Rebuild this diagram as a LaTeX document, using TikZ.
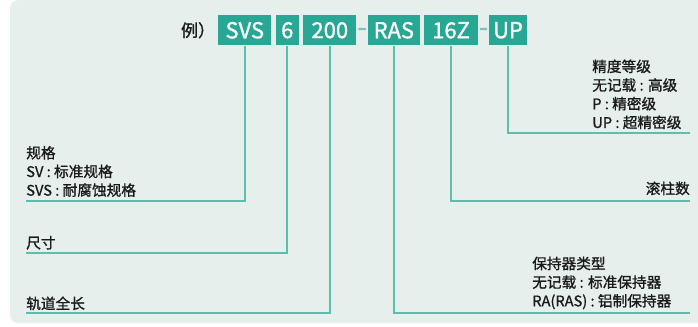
\documentclass[tikz,border=0pt]{standalone}
\usepackage{fontspec}
\setmainfont{Noto Sans CJK SC}[FakeBold=1.1]
\usepackage{xcolor}
\usetikzlibrary{positioning, calc}

\definecolor{codebox}{HTML}{27A794}
\definecolor{guide}{HTML}{5CBFAE}
\definecolor{dashgrey}{HTML}{7FBFB5}
\definecolor{panel}{HTML}{E6EFEC}
\definecolor{labeltext}{HTML}{1A1A1A}

\begin{document}
\begin{tikzpicture}[x=0.75pt, y=-0.75pt,
        codepart/.style={fill=codebox, text=white, minimum height=22.5pt, inner sep=0pt, font=\fontsize{16.5}{18}\selectfont},
        joiner/.style={text=dashgrey, inner sep=0pt, font=\fontsize{20}{22}\selectfont},
        lead/.style={draw=guide, line width=1.5pt},
        note/.style={text=labeltext, inner sep=0pt, align=left, font=\fontsize{11}{14}\selectfont}]

        \def\leftx{26}
        \def\rightx{690}

        \useasboundingbox (0,0) rectangle (698,326);
        \fill[panel, rounded corners=6pt] (10,0) rectangle (712,323);

        \node[codepart, minimum width=39.75pt, anchor=north west] (svs) at (218,15) {SVS};
        \node[codepart, minimum width=17.25pt, right=3pt of svs] (size) {6};
        \node[codepart, minimum width=39.75pt, right=3pt of size] (len) {200};
        \node[codepart, minimum width=39pt, right=8.25pt of len] (ras) {RAS};
        \node[codepart, minimum width=40pt, right=3pt of ras] (rollers) {16Z};
        \node[codepart, minimum width=28.1pt, right=8.25pt of rollers] (up) {UP};
        \node[joiner] (dasha) at ($(len.east)!0.5!(ras.west)+(0,2)$) {-};
        \node[joiner] (dashb) at ($(rollers.east)!0.5!(up.west)+(0,2)$) {-};
        \node[text=labeltext, inner sep=0pt, anchor=east, font=\fontsize{12.75}{15}\selectfont, left=2pt of svs] (example) {例）};

        \coordinate (specend) at (\leftx,200.7);
        \coordinate (sizeend) at (\leftx,252.5);
        \coordinate (lenend) at (\leftx,313);
        \coordinate (cageend) at (\rightx,313);
        \coordinate (rollend) at (\rightx,201);
        \coordinate (gradeend) at (\rightx,132.7);

        \draw[lead] (svs.south) |- (specend);
        \draw[lead] (size.south) |- (sizeend);
        \draw[lead] (len.south) |- (lenend);
        \draw[lead] (ras.south) |- (cageend);
        \draw[lead] (rollers.south) |- (rollend);
        \draw[lead] (up.south) |- (gradeend);

        \node[note, anchor=south west] (spec) at (\leftx,197.2) {规格\\SV : 标准规格\\SVS : 耐腐蚀规格};
        \node[note, anchor=south west] (sizetext) at (\leftx,249.8) {尺寸};
        \node[note, anchor=south west] (lentext) at (\leftx,310.5) {轨道全长};
        \node[note, anchor=south west] (cage) at (532,309.5) {保持器类型\\无记载 : 标准保持器\\RA(RAS) : 铝制保持器};
        \node[note, anchor=south east] (rolltext) at (\rightx,195.5) {滚柱数};
        \node[note, anchor=south west] (grade) at (592,129.4) {精度等级\\无记载 : 高级\\P : 精密级\\UP : 超精密级};

    \end{tikzpicture}
\end{document}
